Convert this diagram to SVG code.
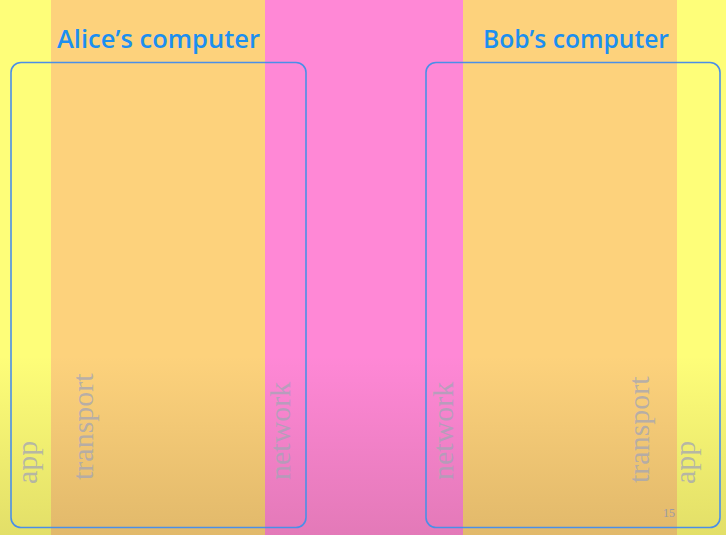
<svg xmlns="http://www.w3.org/2000/svg" width="726" height="535" viewBox="0 0 726 535">
<defs>
<linearGradient id="shade" x1="0" y1="0" x2="0" y2="1">
<stop offset="0" stop-color="#3a2000" stop-opacity="0"/>
<stop offset="1" stop-color="#3a2000" stop-opacity="0.14"/>
</linearGradient>
<style>
.title{font-family:"Open Sans","DejaVu Sans",sans-serif;font-size:26px;font-weight:600;fill:#1c8ff0}
.layer{font-family:"Liberation Serif","Times New Roman",serif;font-size:30px;fill:#a3a5b6;fill-opacity:0.75}
.box{fill:none;stroke:#4a8fe8;stroke-width:1.6}
</style>
</defs>
<g id="background">
<rect x="0" y="0" width="51" height="535" fill="#fefe79"/>
<rect x="51" y="0" width="214" height="535" fill="#fdd27c"/>
<rect x="265" y="0" width="198" height="535" fill="#ff88d6"/>
<rect x="463" y="0" width="214" height="535" fill="#fdd27c"/>
<rect x="677" y="0" width="49" height="535" fill="#fefe79"/>
<rect x="0" y="355" width="726" height="180" fill="url(#shade)"/>
</g>
<g id="alice">
<rect class="box" x="11" y="62.5" width="295" height="465" rx="10"/>
<text class="title" x="57" y="48" textLength="203" lengthAdjust="spacingAndGlyphs">Alice’s computer</text>
<text class="layer" transform="translate(36.5,484) rotate(-90)">app</text>
<text class="layer" transform="translate(93,480) rotate(-90)">transport</text>
<text class="layer" transform="translate(290,480) rotate(-90)">network</text>
</g>
<g id="bob">
<rect class="box" x="426" y="62.5" width="294" height="465" rx="10"/>
<text class="title" x="483" y="48" textLength="186" lengthAdjust="spacingAndGlyphs">Bob’s computer</text>
<text class="layer" transform="translate(453,480) rotate(-90)">network</text>
<text class="layer" transform="translate(649,483) rotate(-90)">transport</text>
<text class="layer" transform="translate(695,484) rotate(-90)">app</text>
</g>
<g id="page-number">
<text x="663" y="517" font-family="Liberation Serif, serif" font-size="12" fill="#9a9aa6">15</text>
</g>
<g id="connectors"/>
</svg>
